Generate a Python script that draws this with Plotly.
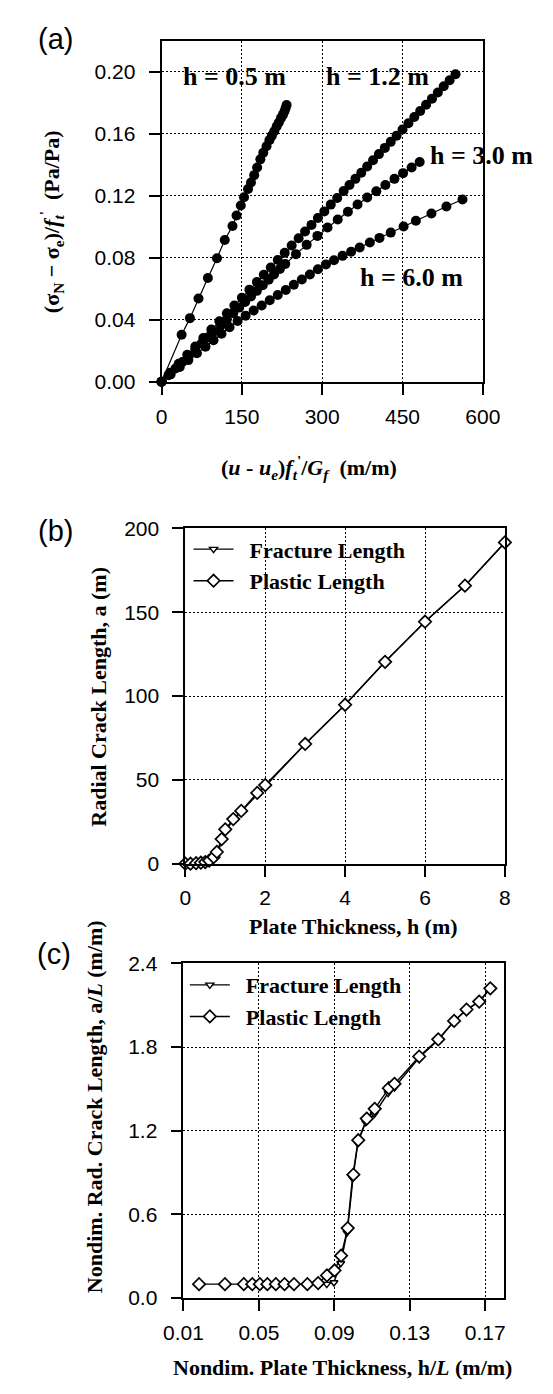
import plotly.graph_objects as go

# ---------------- Panel (a) data ----------------
a05_x = [0, 37.5, 53, 69, 86.5, 103.5, 118, 132.5, 140, 148, 154, 161.5, 167, 173, 178.5, 184.5,
         190, 196, 201.5, 206, 210.5, 215, 219, 223, 226.5, 229.5, 231.5, 233.5]
a05_y = [0, 0.0304, 0.0411, 0.0538, 0.0670, 0.0798, 0.0915, 0.1006, 0.1074, 0.1138, 0.1191, 0.1245,
         0.1287, 0.1334, 0.1383, 0.1436, 0.1479, 0.1521, 0.1560, 0.1589, 0.1617, 0.1649, 0.1674,
         0.1702, 0.1723, 0.1745, 0.1766, 0.1787]

a12_x = [0, 16, 32, 48, 63, 78, 93, 108, 122, 136, 150, 164, 178, 191, 204, 217, 230, 243, 256,
         268, 280, 292, 304, 316, 328, 340, 351, 362, 373, 384, 395, 406, 417, 428, 439, 450, 461,
         472, 483, 494, 505, 516, 527, 538, 549]
a12_y = [0, 0.0058, 0.0116, 0.0174, 0.0228, 0.0283, 0.0337, 0.0391, 0.0442, 0.0492, 0.0543, 0.0594,
         0.0644, 0.0691, 0.0738, 0.0786, 0.0833, 0.0880, 0.0927, 0.0970, 0.1013, 0.1057, 0.1100,
         0.1144, 0.1187, 0.1231, 0.1270, 0.1310, 0.1350, 0.1390, 0.1430, 0.1470, 0.1510, 0.1549,
         0.1589, 0.1629, 0.1669, 0.1709, 0.1748, 0.1788, 0.1828, 0.1868, 0.1908, 0.1947, 0.1985]

a30_x = [0, 13, 26, 39, 51, 63, 75, 87, 99, 111, 122, 134, 145, 156, 167, 178, 189, 200, 210, 221,
         231, 251, 271, 291, 310, 329, 348, 366, 384, 401, 418, 435, 451, 467, 482]
a30_y = [0, 0.0043, 0.0086, 0.0128, 0.0168, 0.0208, 0.0248, 0.0288, 0.0327, 0.0366, 0.0403, 0.0442,
         0.0479, 0.0515, 0.0551, 0.0587, 0.0623, 0.0659, 0.0693, 0.0728, 0.0761, 0.0824, 0.0884,
         0.0942, 0.0996, 0.1048, 0.1098, 0.1145, 0.1190, 0.1230, 0.1270, 0.1310, 0.1347, 0.1383,
         0.1419]

a60_x = [0, 17, 34, 50, 66, 82, 97, 112, 127, 142, 157, 172, 187, 202, 217, 232, 247, 262, 277, 292,
         307, 322, 338, 354, 370, 389, 407, 428, 452, 475, 504, 532, 562]
a60_y = [0, 0.0048, 0.0096, 0.0140, 0.0184, 0.0227, 0.0268, 0.0310, 0.0352, 0.0393, 0.0426, 0.0460,
         0.0493, 0.0527, 0.0560, 0.0593, 0.0626, 0.0660, 0.0693, 0.0727, 0.0758, 0.0785, 0.0813,
         0.0840, 0.0867, 0.0899, 0.0929, 0.0963, 0.1002, 0.1040, 0.1087, 0.1132, 0.1177]

a_labels = ["h = 0.5 m", "h = 1.2 m", "h = 3.0 m", "h = 6.0 m"]
a_label_x = [136, 403, 597, 467]
a_label_y = [0.1968, 0.1968, 0.146, 0.0673]

a_xticks = [0, 150, 300, 450, 600]
a_yticks = [0.00, 0.04, 0.08, 0.12, 0.16, 0.20]

# ---------------- Panel (b) data ----------------
b_plastic_h = [0, 0.13, 0.27, 0.39, 0.5, 0.6, 0.71, 0.79, 0.91, 1.0, 1.2, 1.4, 1.8, 2.0,
               3.0, 4.0, 5.0, 6.0, 7.0, 8.0]
b_plastic_a = [0, 0, 0.3, 0.6, 1.0, 1.8, 3.9, 7.0, 14.7, 20.5, 26.6, 31.5, 42.2, 46.9,
               71.4, 94.8, 120.4, 144.3, 165.8, 191.6]
b_fracture_h = [0, 0.04, 0.08, 0.12, 0.79, 0.91, 1.0, 1.2, 1.4, 1.8, 2.0, 3.0, 4.0, 5.0,
                6.0, 7.0, 8.0]
b_fracture_a = [0, 0, 0, 0, 5.0, 13.5, 19.5, 26.0, 31.0, 41.5, 46.5, 71.4, 94.8, 120.4,
                144.3, 165.8, 191.6]
b_xticks = [0, 2, 4, 6, 8]
b_yticks = [0, 50, 100, 150, 200]

# ---------------- Panel (c) data ----------------
c_plastic_x = [0.0183, 0.032, 0.042, 0.0465, 0.0505, 0.0545, 0.059, 0.0636, 0.0686, 0.0757,
               0.0814, 0.0861, 0.0901, 0.0936, 0.0971, 0.1001, 0.1027, 0.1072, 0.1114, 0.1189,
               0.1219, 0.1350, 0.1451, 0.1535, 0.1601, 0.1668, 0.1727]
c_plastic_y = [0.10, 0.10, 0.10, 0.10, 0.10, 0.10, 0.10, 0.10, 0.10, 0.10,
               0.108, 0.163, 0.198, 0.304, 0.502, 0.885, 1.132, 1.287, 1.357, 1.505,
               1.536, 1.732, 1.855, 1.987, 2.069, 2.126, 2.221]
c_fracture_x = [0.0860, 0.0898, 0.0934, 0.0967, 0.0996, 0.1024, 0.1066, 0.1112, 0.1185, 0.1219,
                0.1350, 0.1451, 0.1535, 0.1601, 0.1668, 0.1727]
c_fracture_y = [0.100, 0.112, 0.25, 0.47, 0.86, 1.11, 1.26, 1.32, 1.47, 1.51,
                1.725, 1.85, 1.985, 2.067, 2.125, 2.22]
c_xticks = [0.01, 0.05, 0.09, 0.13, 0.17]
c_yticks = [0.0, 0.6, 1.2, 1.8, 2.4]

W, H = 553, 1394
SANS = "Liberation Sans"
SERIF = "Liberation Serif"
NB = "\u00a0"

fig = go.Figure()

# Panel (a) curves
for xs, ys in [(a05_x, a05_y), (a12_x, a12_y), (a30_x, a30_y), (a60_x, a60_y)]:
    fig.add_trace(go.Scatter(
        x=xs, y=ys, mode="lines+markers", xaxis="x", yaxis="y", showlegend=False,
        line=dict(color="black", width=1.2),
        marker=dict(color="black", size=10, line=dict(width=0)),
        cliponaxis=False, hoverinfo="skip"))

fr_marker = dict(symbol="triangle-down", size=7, color="white", line=dict(color="black", width=1.4))
pl_marker = dict(symbol="diamond", size=9.5, color="white", line=dict(color="black", width=1.7))
fr_name = "<b>" + NB * 2 + "Fracture Length</b>"
pl_name = "<b>" + NB * 2 + "Plastic Length</b>"

# Panel (b)
fig.add_trace(go.Scatter(
    x=b_fracture_h, y=b_fracture_a, mode="lines+markers", xaxis="x2", yaxis="y2",
    name=fr_name, legend="legend", line=dict(color="black", width=1.4),
    marker=fr_marker, cliponaxis=False))
fig.add_trace(go.Scatter(
    x=b_plastic_h, y=b_plastic_a, mode="lines+markers", xaxis="x2", yaxis="y2",
    name=pl_name, legend="legend", line=dict(color="black", width=1.4),
    marker=pl_marker, cliponaxis=False))

# Panel (c)
fig.add_trace(go.Scatter(
    x=c_fracture_x, y=c_fracture_y, mode="lines+markers", xaxis="x3", yaxis="y3",
    name=fr_name, legend="legend2", line=dict(color="black", width=1.4),
    marker=fr_marker, cliponaxis=False))
fig.add_trace(go.Scatter(
    x=c_plastic_x, y=c_plastic_y, mode="lines+markers", xaxis="x3", yaxis="y3",
    name=pl_name, legend="legend2", line=dict(color="black", width=1.4),
    marker=pl_marker, cliponaxis=False))


def ax(domain, rng, tickvals, fmt, anchor, standoff):
    return dict(
        domain=domain, range=rng, tickvals=tickvals, tickformat=fmt, anchor=anchor,
        showline=True, linecolor="black", linewidth=1.8, mirror=True,
        ticks="outside", ticklen=11, tickwidth=1.8, tickcolor="black",
        showgrid=True, gridcolor="black", gridwidth=1, griddash="2px,2px",
        zeroline=False, ticklabelstandoff=standoff,
        tickfont=dict(family=SANS, size=21, color="black"))


fig.update_layout(
    width=W, height=H, autosize=False,
    margin=dict(l=0, r=0, t=0, b=0),
    paper_bgcolor="white", plot_bgcolor="white",
    xaxis=ax([152 / W, 497 / W], [0, 600], a_xticks, "d", "y", 4),
    yaxis=ax([1 - 376 / H, 1 - 29.5 / H], [0, 0.22], a_yticks, ".2f", "x", 9),
    xaxis2=ax([177.5 / W, 520.7 / W], [0, 8], b_xticks, "d", "y2", 3),
    yaxis2=ax([1 - 866 / H, 1 - 525 / H], [0, 200], b_yticks, "d", "x2", 9),
    xaxis3=ax([175.5 / W, 519.8 / W], [0.01, 0.18], c_xticks, ".2f", "y3", 4),
    yaxis3=ax([1 - 1307.7 / H, 1 - 967.3 / H], [0, 2.4], c_yticks, ".1f", "x3", 9),
    legend=dict(x=181 / W, y=1 - 525 / H, xanchor="left", yanchor="top",
                bgcolor="rgba(0,0,0,0)", borderwidth=0, itemwidth=40,
                font=dict(family=SERIF, size=22, color="black"), tracegroupgap=0),
    legend2=dict(x=177 / W, y=1 - 968 / H, xanchor="left", yanchor="top",
                 bgcolor="rgba(0,0,0,0)", borderwidth=0, itemwidth=40,
                 font=dict(family=SERIF, size=22, color="black"), tracegroupgap=0),
    showlegend=True,
)

ann = []
# h labels in (a)
for t, xv, yv in zip(a_labels, a_label_x, a_label_y):
    ann.append(dict(x=xv, y=yv, xref="x", yref="y", text="<b>" + t + "</b>", showarrow=False,
                    font=dict(family=SERIF, size=26, color="black"), xanchor="center", yanchor="middle"))


def pa(text, xpx, ypx, size, family, angle=0):
    return dict(x=xpx / W, y=1 - ypx / H, xref="paper", yref="paper", text=text, showarrow=False,
                font=dict(family=family, size=size, color="black"), textangle=angle,
                xanchor="center", yanchor="middle")


ann += [
    pa("(a)", 38.5, 27, 29, SANS),
    pa("(b)", 38, 528, 29, SANS),
    pa("(c)", 37, 958, 29, SANS),
    pa("<b>(σ<sub>N</sub> − σ<sub>e</sub>)/<i>f</i><sub><i>t</i></sub><sup>'</sup>" + NB * 2 + "(Pa/Pa)</b>",
       34, 213, 22, SERIF, -90),
    pa("<b>(<i>u</i> - <i>u</i><sub><i>e</i></sub>)<i>f</i><sub><i>t</i></sub><sup>'</sup>/<i>G<sub>f</sub></i>" + NB * 2 + "(m/m)</b>",
       310, 463, 22, SERIF),
    pa("<b>Radial Crack Length, a (m)</b>", 84, 696, 22, SERIF, -90),
    pa("<b>Plate Thickness, h (m)</b>", 358, 930, 22, SERIF),
    pa("<b>Nondim. Rad. Crack Length, a/<i>L</i> (m/m)</b>", 80, 1113, 22, SERIF, -90),
    pa("<b>Nondim. Plate Thickness, h/<i>L</i> (m/m)</b>", 346, 1378, 22, SERIF),
]
fig.update_layout(annotations=ann)

fig.write_html("out.html")
